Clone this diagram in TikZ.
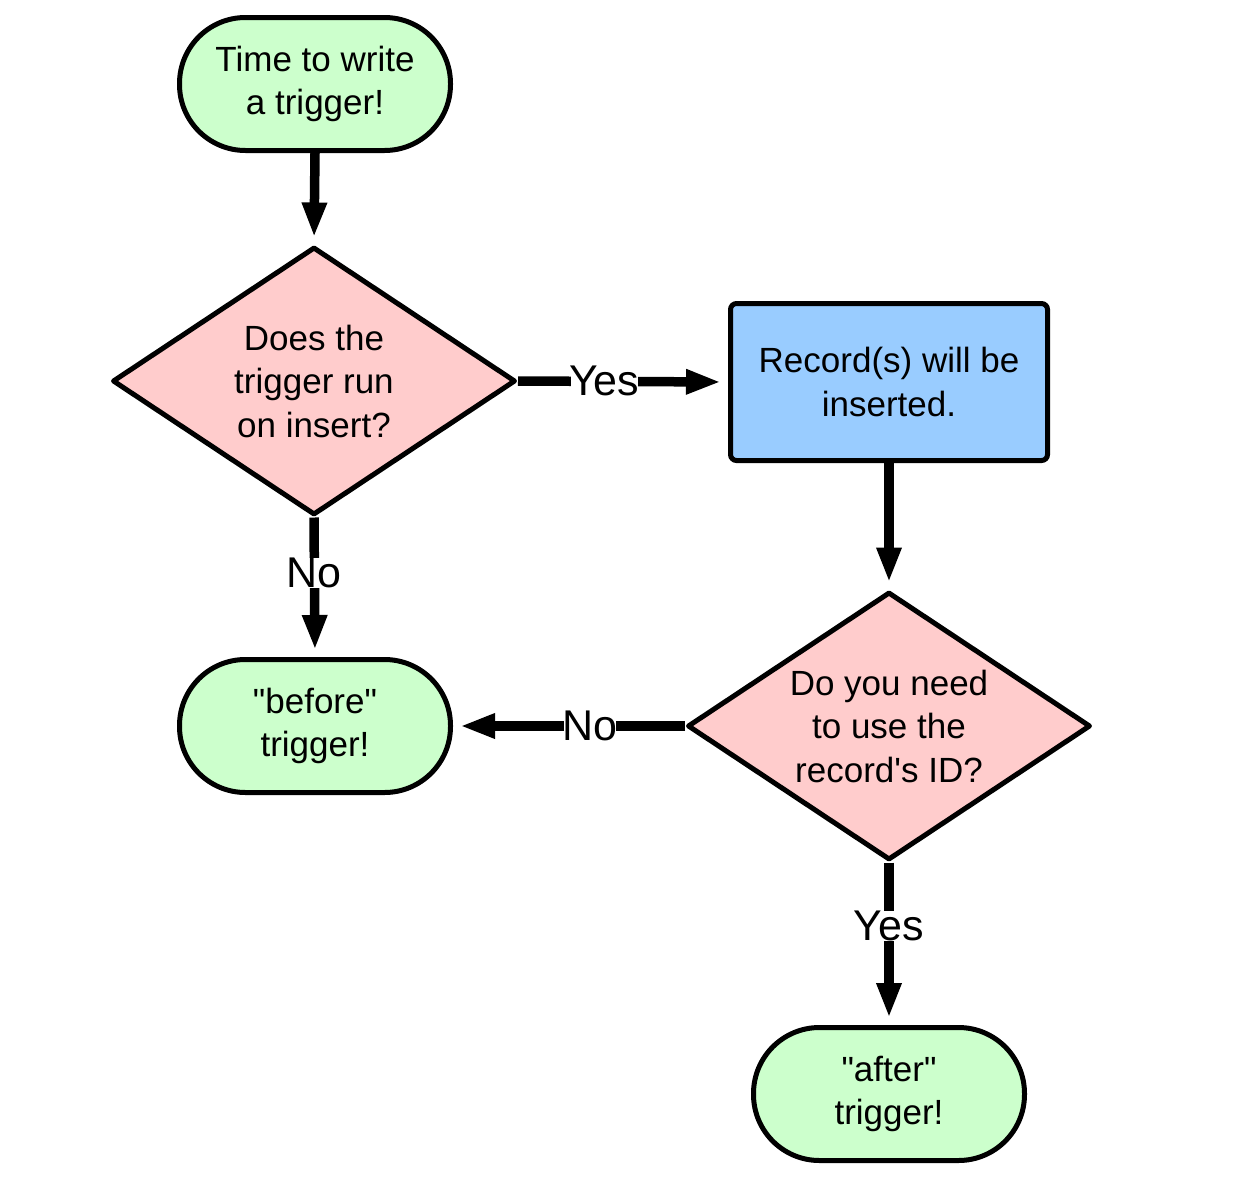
\documentclass[tikz,border=0pt]{standalone}
\usepackage{fontspec}
\setmainfont{Liberation Sans}
\usetikzlibrary{shapes.geometric,arrows.meta}
\definecolor{termgreen}{HTML}{CCFFCC}
\definecolor{decpink}{HTML}{FFCCCC}
\definecolor{procblue}{HTML}{99CCFF}
\begin{document}
\begin{tikzpicture}[x=1pt,y=-1pt,
  txt/.style={align=center, font=\fontsize{35}{43.5}\selectfont},
  term/.style={txt, draw, line width=5pt, fill=termgreen, rounded corners=66pt,
    minimum width=271pt, minimum height=133pt, inner sep=0pt},
  dec/.style={txt, diamond, draw, line width=5pt, line join=round, fill=decpink,
    minimum width=403pt, minimum height=268pt, aspect=1.5, inner sep=0pt},
  proc/.style={txt, rectangle, draw, line width=5pt, fill=procblue, rounded corners=6pt,
    minimum width=317pt, minimum height=157pt, inner sep=0pt},
  conn/.style={line width=9.5pt, -{Triangle[length=35pt,width=23pt]}, shorten >=7pt},
  lbl/.style={fill=white, inner ysep=0pt, inner xsep=-1.5pt, font=\fontsize{43}{43}\selectfont}
]
\useasboundingbox (0,0) rectangle (1256,1200);
\fill[white] (0,0) rectangle (1256,1200);

\node[term] (start) at (315,84) {Time to write\\a trigger!};
\node[dec] (d1) at (314,381) {Does the\\trigger run\\on insert?};
\node[proc] (rec) at (889,382) {Record(s) will be\\inserted.};
\node[dec] (d2) at (889,726) {Do you need\\to use the\\record\textquotesingle s ID?};
\node[term] (before) at (315,726) {\textquotedbl before\textquotedbl\\trigger!};
\node[term] (after) at (889,1094) {\textquotedbl after\textquotedbl\\trigger!};

\draw[conn] (start.south) -- (d1.north);
\draw[conn] (d1.east) -- node[lbl,pos=0.41] {Yes} (rec.west);
\draw[conn] (rec.south) -- (d2.north);
\draw[conn] (d1.south) -- node[lbl,pos=0.4] {No} (before.north);
\draw[conn] (d2.west) -- node[lbl,pos=0.41] {No} (before.east);
\draw[conn] (d2.south) -- node[lbl,pos=0.39] {Yes} (after.north);
\end{tikzpicture}
\end{document}
